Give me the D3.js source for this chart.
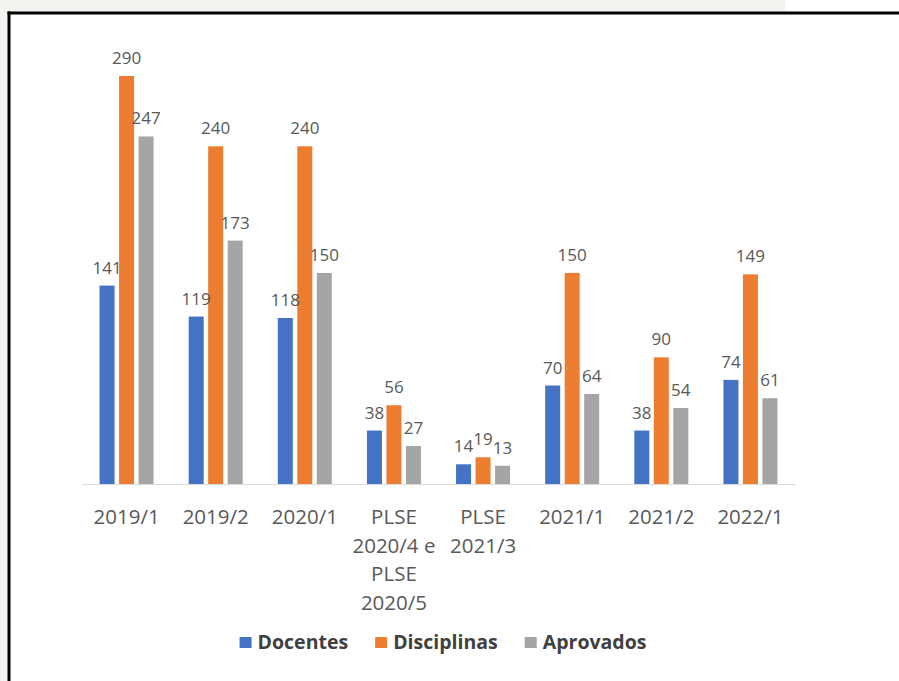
<!DOCTYPE html>
<html>
<head>
<meta charset="utf-8">
<script src="https://cdn.jsdelivr.net/npm/d3@7"></script>
<style>
  html, body { margin: 0; padding: 0; background: #ffffff; overflow: hidden; }
  svg { display: block; }
  text { font-family: "Open Sans", "Noto Sans", sans-serif; }
</style>
</head>
<body>
<svg id="chart" width="899" height="681"></svg>
<script>
// ---- data ----
const categories = ["2019/1", "2019/2", "2020/1", "PLSE 2020/4 e PLSE 2020/5", "PLSE 2021/3", "2021/1", "2021/2", "2022/1"];
const categoryLines = [["2019/1"], ["2019/2"], ["2020/1"], ["PLSE", "2020/4 e", "PLSE", "2020/5"], ["PLSE", "2021/3"], ["2021/1"], ["2021/2"], ["2022/1"]];
const seriesNames = ["Docentes", "Disciplinas", "Aprovados"];
const docentes    = [141, 119, 118, 38, 14, 70, 38, 74];
const disciplinas = [290, 240, 240, 56, 19, 150, 90, 149];
const aprovados   = [247, 173, 150, 27, 13, 64, 54, 61];
const seriesColors = ["#4472C4", "#ED7D31", "#A5A5A5"];

const seriesValues = [docentes, disciplinas, aprovados];
const rows = categories.map((c, i) => ({
  category: c,
  lines: categoryLines[i],
  values: seriesNames.map((s, j) => ({ series: s, value: seriesValues[j][i], color: seriesColors[j] }))
}));

const svg = d3.select("#chart");
const W = 899, H = 681;

// background / frame (cropped screenshot look)
svg.append("rect").attr("x", 0).attr("y", 0).attr("width", W).attr("height", H).attr("fill", "#f3f3ef");
svg.append("rect").attr("x", 785).attr("y", 0).attr("width", W - 785).attr("height", 13).attr("fill", "#ffffff");
svg.append("rect").attr("x", 9).attr("y", 13).attr("width", W - 9).attr("height", H - 13).attr("fill", "#ffffff");
svg.append("line").attr("x1", 7.5).attr("x2", W).attr("y1", 13).attr("y2", 13)
  .attr("stroke", "#000").attr("stroke-width", 3);
svg.append("line").attr("x1", 9).attr("x2", 9).attr("y1", 11.5).attr("y2", H)
  .attr("stroke", "#000").attr("stroke-width", 3);

// scales
const x0 = d3.scaleBand().domain(categories).range([82, 795]).paddingInner(0.394).paddingOuter(0.197);
const x1 = d3.scaleBand().domain(seriesNames).range([0, x0.bandwidth()]).paddingInner(0.2308).paddingOuter(0);
const y = d3.scaleLinear().domain([0, 300]).range([484, 61.9]);

// axis
const axisG = svg.append("g").attr("transform", `translate(0,${y(0)})`)
  .call(d3.axisBottom(x0).tickSize(0).tickFormat(""));
axisG.select(".domain").attr("stroke", "#d9d9d9").attr("stroke-width", 1.2);
axisG.selectAll(".tick").each(function(d, i) {
  const t = d3.select(this).append("text")
    .attr("text-anchor", "middle")
    .attr("fill", "#595959")
    .attr("font-size", "20.5px")
    .attr("y", 40);
  categoryLines[i].forEach((ln, k) => {
    t.append("tspan").attr("x", 0).attr("dy", k === 0 ? 0 : 28.5).text(ln);
  });
});

// bars
const groups = svg.append("g").selectAll("g.grp").data(rows).join("g")
  .attr("class", "grp")
  .attr("transform", d => `translate(${x0(d.category)},0)`);

groups.selectAll("rect").data(d => d.values).join("rect")
  .attr("x", d => x1(d.series))
  .attr("y", d => y(d.value))
  .attr("width", x1.bandwidth())
  .attr("height", d => y(0) - y(d.value))
  .attr("fill", d => d.color);

groups.selectAll("text.lbl").data(d => d.values).join("text")
  .attr("class", "lbl")
  .attr("x", d => x1(d.series) + x1.bandwidth() / 2)
  .attr("y", d => y(d.value) - 12)
  .attr("text-anchor", "middle")
  .attr("fill", "#595959")
  .attr("font-size", "17px")
  .text(d => d.value);

// legend
const legend = svg.append("g");
const items = legend.selectAll("g").data(seriesNames).join("g");
items.append("rect").attr("width", 12).attr("height", 11).attr("y", 637)
  .attr("fill", (d, i) => seriesColors[i]);
items.append("text").attr("x", 18).attr("y", 649)
  .attr("font-size", "19.5px").attr("font-weight", "bold").attr("fill", "#404040")
  .text(d => d);
let cx = 0;
const widths = [];
items.each(function() {
  widths.push(d3.select(this).select("text").node().getComputedTextLength());
});
const total = widths.reduce((a, w) => a + 18 + w, 0) + 27 * (widths.length - 1);
cx = 443 - total / 2;
items.attr("transform", function(d, i) {
  const tx = cx;
  cx += 18 + widths[i] + 27;
  return `translate(${tx},0)`;
});
</script>
</body>
</html>
